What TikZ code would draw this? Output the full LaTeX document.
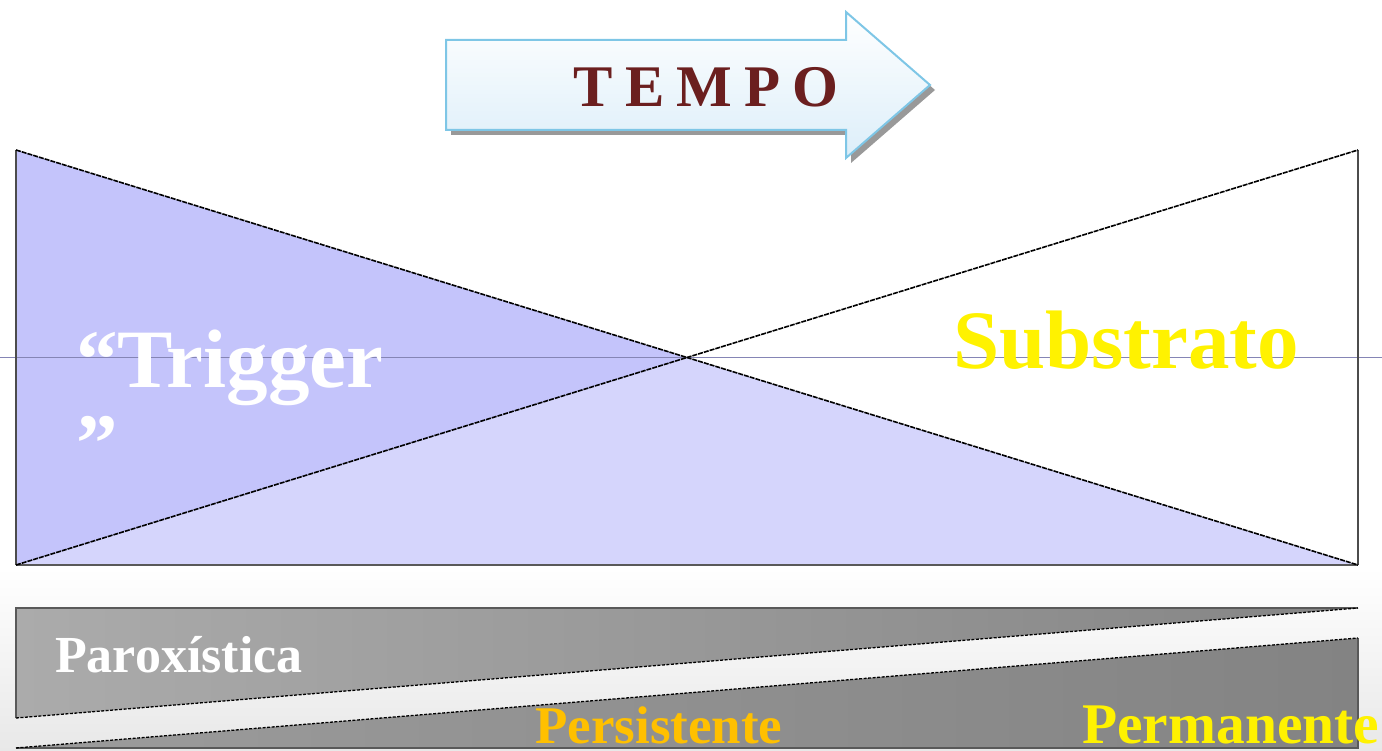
\documentclass[tikz,border=0pt]{standalone}
\usepackage{fontspec}
\setmainfont{Liberation Serif}
\definecolor{blueA}{HTML}{C4C4FB}
\definecolor{blueB}{HTML}{D5D5FC}
\definecolor{arrowblue}{HTML}{DCEEF9}
\definecolor{arrowedge}{HTML}{7EC6E6}
\definecolor{tempored}{HTML}{6B1F1F}
\definecolor{greyL}{HTML}{ABABAB}
\definecolor{greyR}{HTML}{858585}
\definecolor{greyL2}{HTML}{9C9C9C}
\definecolor{greyR2}{HTML}{838383}
\definecolor{persist}{HTML}{FFC000}
\definecolor{hline}{HTML}{8585B5}
\tikzset{
  edge/.style={draw=black!70, line width=1.3pt},
  diag/.style={draw=black, line width=1.6pt, dash pattern=on 5pt off 1pt},
  ddiag/.style={draw=black, line width=1.3pt, dash pattern=on 3pt off 1.5pt},
  lbl/.style={inner sep=0pt, text depth=0pt, font=\bfseries},
}
\begin{document}
\begin{tikzpicture}[x=1pt,y=-1pt]
\useasboundingbox (0,0) rectangle (1382,751);
% bottom background
\shade[top color=white, bottom color=black!9] (0,568) rectangle (1382,751);
% main triangles
\fill[blueA] (16,150) -- (687,357.5) -- (16,565) -- cycle;
\fill[blueB] (16,565) -- (687,357.5) -- (1358,565) -- cycle;
\draw[hline, line width=0.8pt] (0,357) -- (1382,357);
\draw[edge] (16,150) -- (16,565);
\draw[edge] (1358,150) -- (1358,565);
\draw[draw=black!65, line width=2pt] (16,565) -- (1358,565);
\draw[diag] (16,150) -- (1358,565);
\draw[diag] (16,565) -- (1358,150);
% arrow TEMPO
\fill[black!40] ([xshift=5pt,yshift=-5pt]446,40) -- ([xshift=5pt,yshift=-5pt]846,40) -- ([xshift=5pt,yshift=-5pt]846,12) -- ([xshift=5pt,yshift=-5pt]930,85) -- ([xshift=5pt,yshift=-5pt]846,158) -- ([xshift=5pt,yshift=-5pt]846,130) -- ([xshift=5pt,yshift=-5pt]446,130) -- cycle;
\shade[top color=white, bottom color=arrowblue, draw=arrowedge, line width=2pt, line join=miter]
  (446,40) -- (846,40) -- (846,12) -- (930,85) -- (846,158) -- (846,130) -- (446,130) -- cycle;
\node[lbl, anchor=base, text=tempored, font=\bfseries\fontsize{59}{59}\selectfont] (tempo) at (706,107)
  {T\hspace{12pt}E\hspace{12pt}M\hspace{12pt}P\hspace{12pt}O};
% labels in main area
\node[lbl, anchor=base west, text=white, font=\bfseries\fontsize{83}{83}\selectfont] (trigger) at (76,388) {“Trigger};
\node[lbl, anchor=base west, text=white, font=\bfseries\fontsize{83}{83}\selectfont] (triggerq) at (76,471) {”};
\node[lbl, anchor=base west, text=yellow, font=\bfseries\fontsize{83}{83}\selectfont] (substrato) at (953,368) {Substrato};
% bottom bars
\shade[left color=greyL, right color=greyR] (16,608) -- (1358,608) -- (16,718) -- cycle;
\shade[left color=greyL2, right color=greyR2] (16,748) -- (1358,638) -- (1358,748) -- cycle;
\draw[edge, draw=black!65] (16,718) -- (16,608) -- (1358,608);
\draw[ddiag] (16,718) -- (1358,608);
\draw[edge, draw=black!65] (1358,638) -- (1358,748) -- (16,748);
\draw[ddiag] (16,748) -- (1358,638);
\node[lbl, anchor=base west, text=white, font=\bfseries\fontsize{52}{52}\selectfont] (parox) at (55,672) {Paroxística};
\node[lbl, anchor=base west, text=persist, font=\bfseries\fontsize{53}{53}\selectfont] (persist) at (535,743) {Persistente};
\node[lbl, anchor=base west, text=yellow, font=\bfseries\fontsize{57.5}{57.5}\selectfont] (perman) at (1082,743) {Permanente};
\end{tikzpicture}
\end{document}
